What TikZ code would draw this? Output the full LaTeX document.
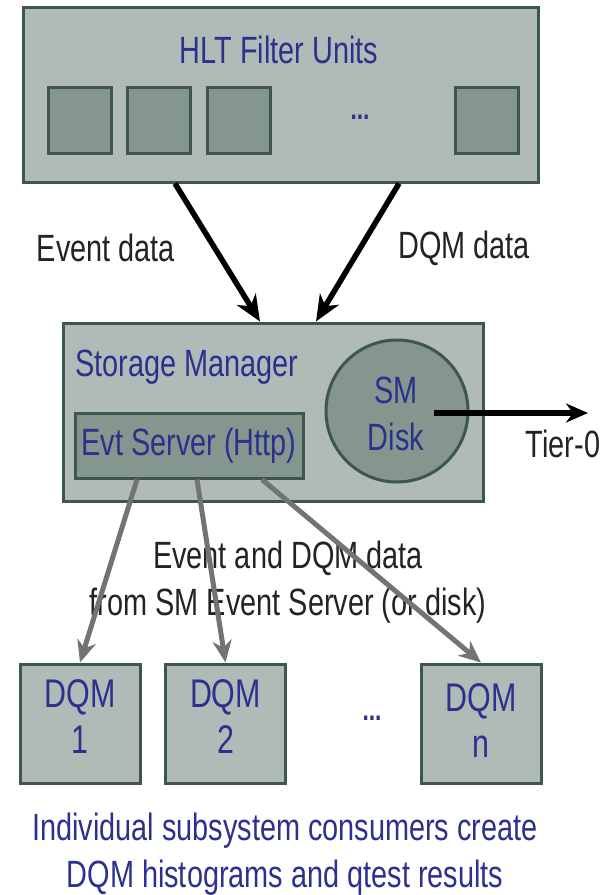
\documentclass[tikz,border=0pt]{standalone}
\usepackage{fontspec}
\setmainfont{Liberation Sans}[FakeStretch=0.76]
\usepackage{xcolor}
\usepackage{tikz}
\usetikzlibrary{arrows.meta}
\usetikzlibrary{shapes}
\usetikzlibrary{positioning}
\definecolor{boxfill}{RGB}{176,187,183}
\definecolor{unitfill}{RGB}{133,150,143}
\definecolor{boxline}{RGB}{62,86,81}
\definecolor{labelblue}{RGB}{43,49,140}
\definecolor{feedgray}{RGB}{115,115,115}
\definecolor{labeldark}{RGB}{35,35,35}
\tikzset{%
  every block/.style={
    rectangle,
    draw=boxline,
    fill=boxfill,
    line width=3pt,
    inner sep=0pt
  },
  inner block/.style={
    fill=unitfill
  },
  blue label/.style={
    text=labelblue,
    inner sep=0pt,
    font=\fontsize{38}{47}\selectfont
  },
  dark label/.style={
    text=labeldark,
    inner sep=0pt,
    font=\fontsize{38}{47}\selectfont
  },
  data flow/.style={
    line width=5.5pt,
    ->
  },
  feed flow/.style={
    line width=5pt,
    draw=feedgray,
    ->
  },
}

\begin{document}
\begin{tikzpicture}[x=1pt, y=-1pt, >={Stealth[length=26pt,width=22pt,inset=8pt]}]

    \useasboundingbox (0,0) rectangle (608,895);

    \node [every block, minimum width=515pt, minimum height=175pt] (hlt) at (280.5,94.5) {};
    \node [blue label, anchor=base] (hlt-title) at (279,63) {HLT Filter Units};

    \foreach \m/\x in {1/79.5,2/158.5,3/238.5,4/486.5}
    \node [every block, inner block, minimum width=63pt, minimum height=66pt] (unit-\m) at (\x,120) {};
    \node [blue label, font=\fontsize{30}{30}\bfseries, anchor=base] (unit-dots) at (360,119) {...};

    \node [every block, minimum width=420pt, minimum height=178pt] (sm) at (273,412) {};
    \node [blue label, anchor=base west] (sm-title) at (75,376) {Storage Manager};
    \node [every block, inner block, circle, minimum size=142pt] (disk) at (397,411) {};
    \node [blue label, align=center, anchor=base] (disk-text) at (396,450) {SM\\Disk};
    \node [every block, inner block, minimum width=228pt, minimum height=65pt, blue label] (evt) at (189,445.5) {Evt Server (Http)};

    \node [dark label, anchor=base] (event-data) at (106,261) {Event data};
    \node [dark label, anchor=base] (dqm-data) at (464,258) {DQM data};
    \draw [data flow] ([xshift=-105.5pt]hlt.south) -- ([xshift=-13pt]sm.north);
    \draw [data flow] ([xshift=118.5pt]hlt.south) -- ([xshift=43pt]sm.north);

    \coordinate (tier-end) at (588,413);
    \node [dark label, anchor=base] (tier) at (563,457) {Tier-0};
    \draw [data flow, >={Stealth[length=22pt,width=19pt,inset=7pt]}] ([xshift=37pt,yshift=-2pt]disk.center) -- (tier-end);

    \foreach \m/\x/\y [count=\i] in {1/80/753,2/225.5/753,n/481/757}
    {
    \node [every block, minimum width=120pt, minimum height=119pt] (dqm-\i) at (\x,723.5) {};
    \node [blue label, font=\fontsize{40}{46}\selectfont, align=center, anchor=base] (dqm-\i-text) at (\x,\y) {DQM\\\m};
    }
    \node [blue label, font=\fontsize{30}{30}\bfseries, anchor=base] (dqm-dots) at (372,720) {...};

    \node [dark label, align=center, anchor=base] (feed-label) at (288,615) {Event and DQM data\\from SM Event Server (or disk)};

    \foreach \s/\i in {-52/1,8/2,73/3}
        \draw [feed flow, >={Stealth[length=22pt,width=19pt,inset=7pt]}] ([xshift=\s pt]evt.south) -- (dqm-\i.north);

    \node [blue label, align=center, anchor=base] (summary) at (285,887) {Individual subsystem consumers create\\DQM histograms and qtest results};

\end{tikzpicture}
\end{document}
